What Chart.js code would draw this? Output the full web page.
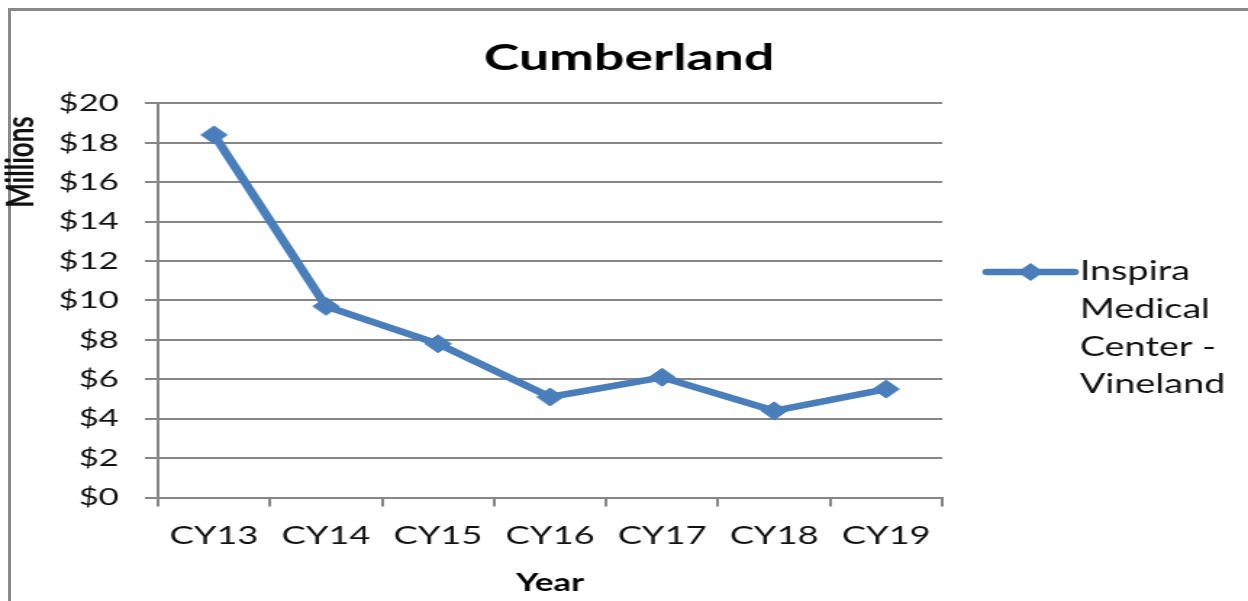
<!DOCTYPE html>
<html>
<head>
<meta charset="utf-8">
<script src="https://cdn.jsdelivr.net/npm/chart.js@4"></script>
<style>
  html, body { margin: 0; padding: 0; background: #fff; overflow: hidden; }
  #frame { position: absolute; left: 8px; top: 8px; width: 1400px; height: 700px;
           border-top: 3px solid #898989; border-left: 3px solid #898989; }
  /* the source image is stretched sideways, so the whole chart is too */
  #wrap { position: absolute; left: 0; top: 0; width: 861px; height: 601px;
          transform: scaleX(1.4495); transform-origin: 0 0; }
</style>
</head>
<body>
<div id="frame"></div>
<div id="wrap"><canvas id="c"></canvas></div>
<script>
"use strict";

// ---- data ----
const years = ["CY13", "CY14", "CY15", "CY16", "CY17", "CY18", "CY19"];
const inspira = [18.4, 9.7, 7.8, 5.1, 6.1, 4.4, 5.5];
const seriesName = "Inspira Medical Center - Vineland";
const legendLines = ["Inspira", "Medical", "Center -", "Vineland"];
const yMin = 0, yMax = 20, yStep = 2;
const chartTitle = "Cumberland";
const xTitle = "Year";
const yTitle = "Millions";

const BLUE = "#4A7EBB";
const GRID = "#868686";
const INK = "#111";
const FONT = "Lato";

Chart.defaults.font.family = FONT;
Chart.defaults.color = INK;

// y title sits near the top like Excel puts it, legend is line + diamond with wrapped text
const sideText = {
  id: "sideText",
  afterDraw(chart) {
    const { ctx, chartArea } = chart;
    ctx.save();
    ctx.fillStyle = INK;
    ctx.font = `bold 26px ${FONT}`;
    ctx.textAlign = "center";
    ctx.textBaseline = "middle";
    ctx.translate(15, 162);
    ctx.rotate(-Math.PI / 2);
    ctx.fillText(yTitle, 0, 0);
    ctx.restore();

    ctx.save();
    const x0 = chartArea.right + 31, x1 = chartArea.right + 91, y0 = 272;
    ctx.strokeStyle = BLUE;
    ctx.lineWidth = 6.5;
    ctx.lineCap = "round";
    ctx.beginPath(); ctx.moveTo(x0, y0); ctx.lineTo(x1, y0); ctx.stroke();
    const cx = (x0 + x1) / 2, r = 9;
    ctx.fillStyle = BLUE;
    ctx.beginPath();
    ctx.moveTo(cx, y0 - r); ctx.lineTo(cx + r, y0); ctx.lineTo(cx, y0 + r); ctx.lineTo(cx - r, y0);
    ctx.closePath(); ctx.fill();
    ctx.fillStyle = INK;
    ctx.font = `26px ${FONT}`;
    ctx.textAlign = "left";
    ctx.textBaseline = "middle";
    legendLines.forEach((t, i) => ctx.fillText(t, x1 + 4, y0 + i * 37.7));
    ctx.restore();
  },
};

new Chart(document.getElementById("c"), {
  type: "line",
  data: {
    labels: years,
    datasets: [{
      label: seriesName,
      data: inspira,
      borderColor: BLUE,
      backgroundColor: BLUE,
      borderWidth: 6.5,
      pointStyle: "rectRot",
      pointRadius: 9,
      pointBorderWidth: 1,
      pointHoverRadius: 9,
      tension: 0,
    }],
  },
  options: {
    responsive: true,
    maintainAspectRatio: false,
    animation: false,
    layout: { padding: { left: 7, right: 0, top: 0, bottom: 0 } },
    plugins: {
      legend: { display: false },
      tooltip: { enabled: false },
      title: {
        display: true,
        text: chartTitle,
        color: "#000",
        font: { size: 37, weight: "bold" },
        padding: { top: 36, bottom: 23 },
      },
    },
    scales: {
      x: {
        offset: true,
        afterFit: (s) => { s.height = 103.5; },
        grid: { offset: true, drawOnChartArea: false, color: GRID, lineWidth: 2, tickLength: 9 },
        border: { color: GRID, width: 2 },
        ticks: { font: { size: 25 }, padding: 14, maxRotation: 0, autoSkip: false, color: INK },
        title: { display: true, text: xTitle, color: "#000", font: { size: 24, weight: "bold" }, padding: { top: 0, bottom: 3 } },
      },
      y: {
        min: yMin,
        max: yMax,
        afterFit: (s) => { s.width = 102; },
        grid: { color: GRID, lineWidth: 2, tickLength: 9 },
        border: { color: GRID, width: 2 },
        ticks: { stepSize: yStep, font: { size: 24 }, padding: 18, color: INK, callback: (v) => "$" + v },
      },
      // empty right-hand axis that only keeps room for the legend
      yR: {
        position: "right",
        afterFit: (s) => { s.width = 211; },
        grid: { display: false },
        border: { display: false },
        ticks: { display: false },
      },
    },
  },
  plugins: [sideText],
});
</script>
</body>
</html>
